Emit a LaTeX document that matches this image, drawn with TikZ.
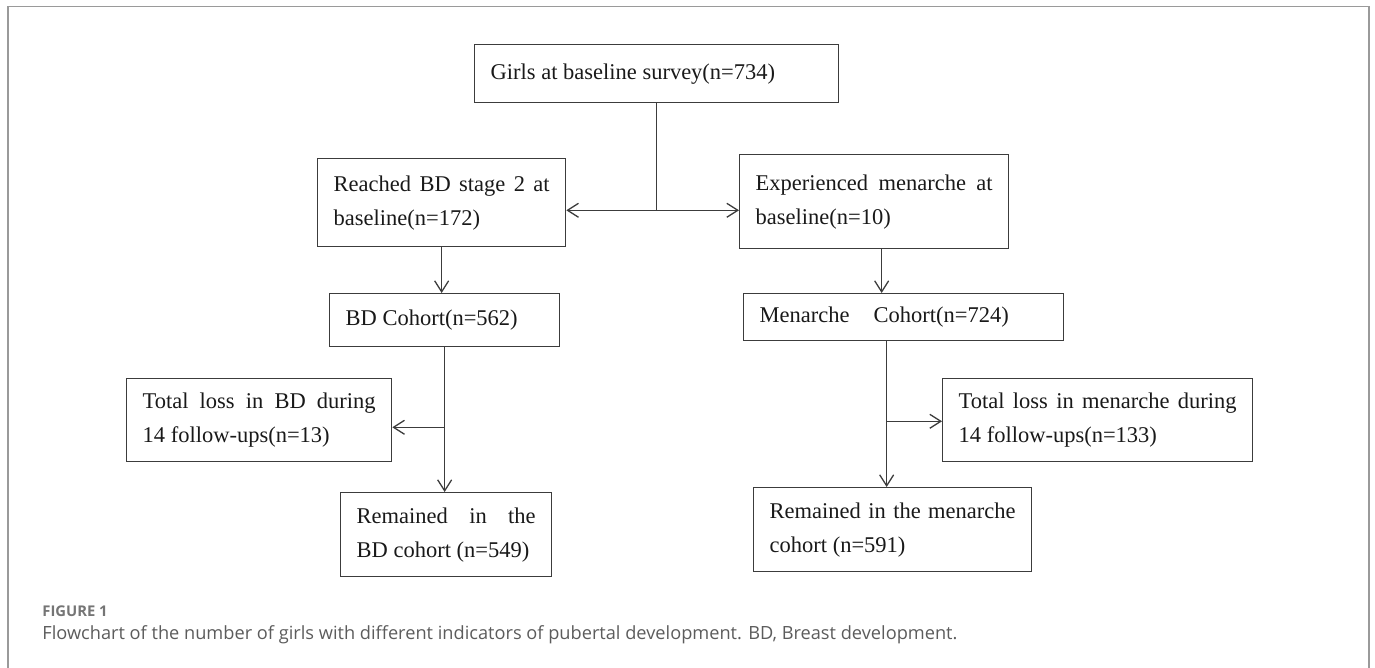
\documentclass[tikz,border=0pt]{standalone}
\usepackage{fontspec}
\setmainfont{Liberation Serif}
\newfontfamily\capfont{Open Sans}
\usepackage{tikz}
\usetikzlibrary{arrows.meta, positioning, calc}

\definecolor{boxline}{HTML}{3C3C3C}
\definecolor{framegray}{HTML}{9A9A9A}
\definecolor{capgray}{HTML}{5C5C5C}

\begin{document}
\begin{tikzpicture}[x=0.5pt, y=-0.5pt, >={Straight Barb[length=5.5pt, width=7pt]},
  box/.style={draw=boxline, line width=0.65pt, anchor=north west, inner xsep=8pt,
    inner ysep=0pt, align=justify, text=black!90,
    font=\fontsize{11.25}{17}\selectfont},
  flow/.style={draw=boxline, line width=0.65pt}]
  \useasboundingbox (0,0) rectangle (1375,668);
  % page frame, open at the bottom
  \draw[framegray, line width=0.75pt] (8,668) -- (8,6.5) -- (1369,6.5) -- (1369,668);
  % boxes
  \node[box, text width=166pt, minimum height=29pt] (girls) at (474,44)
    {Girls at baseline survey(n=734)};
  \node[box, text width=108pt, minimum height=44pt] (bdbase) at (317,158)
    {Reached BD stage 2 at\linebreak baseline(n=172)};
  \node[box, text width=118.5pt, minimum height=47pt] (menbase) at (739,154)
    {Experienced menarche at\linebreak baseline(n=10)};
  \node[box, text width=99pt, minimum height=26.5pt] (bdcoh) at (329,293)
    {BD Cohort(n=562)};
  \node[box, text width=144pt, minimum height=23.5pt] (mencoh) at (743,293)
    {Menarche\hspace{1.07em}Cohort(n=724)};
  \node[box, text width=116.5pt, minimum height=41.5pt] (bdloss) at (126,378)
    {Total loss in BD during\linebreak 14 follow-ups(n=13)};
  \node[box, text width=139pt, minimum height=41.5pt] (menloss) at (942,378)
    {Total loss in menarche during\linebreak 14 follow-ups(n=133)};
  \node[box, text width=89.5pt, minimum height=42pt] (bdrem) at (340,492)
    {Remained in the\linebreak BD cohort (n=549)};
  \node[box, text width=123pt, minimum height=42pt] (menrem) at (753,487)
    {Remained in the menarche\linebreak cohort (n=591)};
  % connectors
  \coordinate (split) at ($(girls.south)+(0,107)$);
  \draw[flow] (girls.south) -- (split);
  \draw[flow, ->] (split) -- (split -| bdbase.east);
  \draw[flow, ->] (split) -- (split -| menbase.west);
  \draw[flow, ->] (bdbase.south) -- (bdbase.south |- bdcoh.north);
  \draw[flow, ->] ([xshift=3.75pt]menbase.south) -- ([xshift=3.75pt]menbase.south |- mencoh.north);
  \coordinate (bdsplit) at ($(bdcoh.south)+(0,80)$);
  \draw[flow, ->] (bdcoh.south) -- (bdcoh.south |- bdrem.north);
  \draw[flow, ->] (bdsplit) -- (bdsplit -| bdloss.east);
  \coordinate (mentop) at ([xshift=-8.5pt]mencoh.south);
  \coordinate (mensplit) at ($(mentop)+(0,80)$);
  \draw[flow, ->] (mentop) -- (mentop |- menrem.north);
  \draw[flow, ->] (mensplit) -- (mensplit -| menloss.west);
  % caption
  \node[anchor=base west, inner sep=0pt, text=capgray!85,
    font=\capfont\bfseries\fontsize{7.4}{9}\selectfont] (fignum) at (42,616) {FIGURE 1};
  \node[anchor=base west, inner sep=0pt, text=capgray,
    font=\capfont\fontsize{9.1}{11}\selectfont] (figcap) at (42,639)
    {Flowchart of the number of girls with different indicators of pubertal development. BD, Breast development.};
\end{tikzpicture}
\end{document}
